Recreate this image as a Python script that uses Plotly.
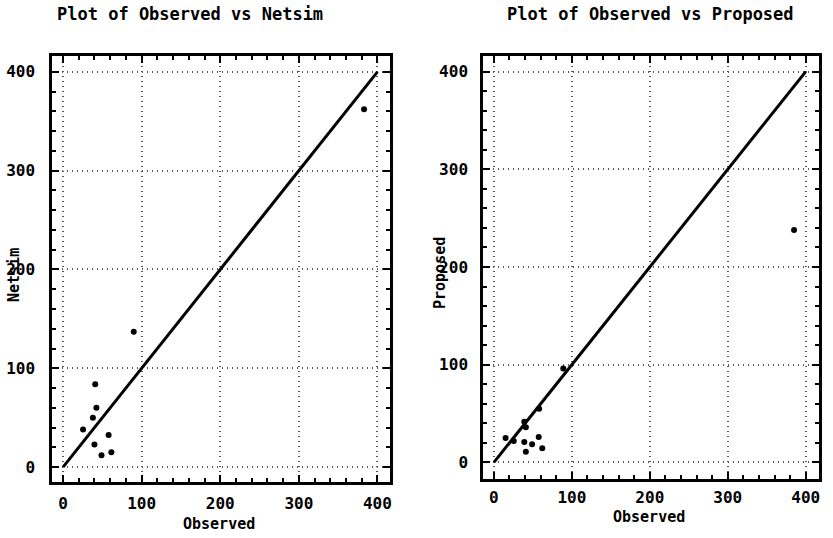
import plotly.graph_objects as go

# ---- data ----
netsim_observed = [41, 42.5, 38, 25.5, 58, 40, 61.5, 49, 90, 383]
netsim_values = [84, 60, 50, 38, 32.5, 23, 15, 12, 137, 362]

proposed_observed = [89, 15, 25.5, 39, 41, 58, 39, 49, 57.5, 41, 62, 385]
proposed_values = [96, 25, 22, 41.5, 36, 55, 21, 18.5, 26, 11, 14.5, 238]

ref_line = [0, 400]
tick_vals = [0, 100, 200, 300, 400]
tick_text = ["0", "100", "200", "300", "400"]

titles = ["Plot of Observed vs Netsim", "Plot of Observed vs Proposed"]
y_titles = ["Netsim", "Proposed"]
x_title = "Observed"

FONT = "DejaVu Sans Mono"

fig = go.Figure()

# Left panel
fig.add_trace(go.Scatter(x=ref_line, y=ref_line, mode="lines",
                         line=dict(color="black", width=3),
                         xaxis="x", yaxis="y", showlegend=False))
fig.add_trace(go.Scatter(x=netsim_observed, y=netsim_values, mode="markers",
                         marker=dict(color="black", size=6),
                         xaxis="x", yaxis="y", showlegend=False))
# Right panel
fig.add_trace(go.Scatter(x=ref_line, y=ref_line, mode="lines",
                         line=dict(color="black", width=3),
                         xaxis="x2", yaxis="y2", showlegend=False))
fig.add_trace(go.Scatter(x=proposed_observed, y=proposed_values, mode="markers",
                         marker=dict(color="black", size=6),
                         xaxis="x2", yaxis="y2", showlegend=False))

axis_common = dict(
    tickvals=tick_vals, ticktext=tick_text,
    showline=True, linecolor="black", linewidth=2.5, mirror="allticks",
    ticks="inside", ticklen=7, tickwidth=2, tickcolor="black",
    minor=dict(dtick=20, ticks="inside", ticklen=4, tickwidth=1.5,
               tickcolor="black", showgrid=False),
    showgrid=True, gridcolor="#555555", griddash="1px,4px", gridwidth=1.5,
    zeroline=False, automargin=False,
    tickfont=dict(family=FONT, size=16, color="black", weight="bold"),
)

fig.update_layout(
    width=833, height=538,
    margin=dict(l=52, r=14, t=56, b=56),
    paper_bgcolor="white", plot_bgcolor="white",
    xaxis=dict(domain=[0, 0.4407], range=[-14, 416], anchor="y",
               ticklabelstandoff=5, **axis_common),
    yaxis=dict(domain=[0, 1], range=[-15, 416], anchor="x",
               ticklabelstandoff=11, **axis_common),
    xaxis2=dict(domain=[0.5619, 1], range=[-14, 417], anchor="y2",
                ticklabelstandoff=2, **axis_common),
    yaxis2=dict(domain=[0.007, 1], range=[-17, 416], anchor="x2",
                ticklabelstandoff=9, **axis_common),
)

def px_x(p):
    return (p - 52) / 767.0

def px_y(p):
    return (482 - p) / 426.0

ann_font = dict(family=FONT, size=17, color="black", weight="bold")
lab_font = dict(family=FONT, size=15, color="black", weight="bold")
annotations = [
    dict(text=titles[0], x=px_x(190), y=px_y(14), font=ann_font),
    dict(text=titles[1], x=px_x(650), y=px_y(14), font=ann_font),
    dict(text=x_title, x=px_x(219), y=px_y(524), font=lab_font),
    dict(text=x_title, x=px_x(649), y=px_y(517), font=lab_font),
    dict(text=y_titles[0], x=px_x(14), y=px_y(275), textangle=-90, font=lab_font),
    dict(text=y_titles[1], x=px_x(440), y=px_y(273), textangle=-90, font=lab_font),
]
for a in annotations:
    a.update(xref="paper", yref="paper", showarrow=False,
             xanchor="center", yanchor="middle")
fig.update_layout(annotations=annotations)

fig.write_html("out.html",
               config={"displayModeBar": False},
               post_script="document.body.style.margin='0';"
                           "document.body.style.overflow='hidden';")
